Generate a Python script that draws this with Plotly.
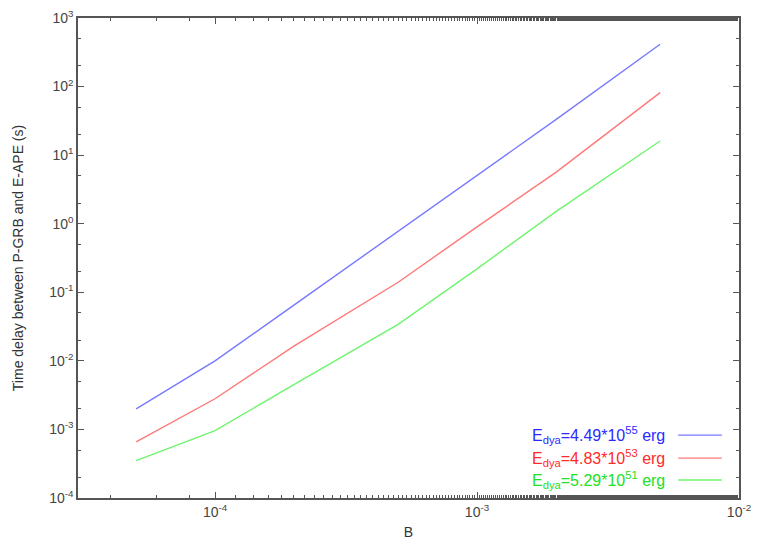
import plotly.graph_objects as go

# magnetic field B and time delay (s) for three dyadosphere energies
B = [5e-5, 1e-4, 2e-4, 5e-4, 1e-3, 2e-3, 5e-3]
delay_55 = [2.0e-3, 1.0e-2, 6.5e-2, 0.77, 5.0, 33.0, 414.0]
delay_53 = [6.6e-4, 2.8e-3, 1.64e-2, 0.14, 0.9, 5.6, 81.5]
delay_51 = [3.5e-4, 9.6e-4, 4.5e-3, 0.034, 0.22, 1.5, 16.1]

labels = ['E<sub>dya</sub>=4.49*10<sup>55</sup> erg',
          'E<sub>dya</sub>=4.83*10<sup>53</sup> erg',
          'E<sub>dya</sub>=5.29*10<sup>51</sup> erg']
text_colors = ['#2a2aff', '#ff2a2a', '#22e022']
line_colors = ['rgb(120,120,255)', 'rgb(255,120,120)', 'rgb(110,245,110)']

xtick_vals = [1e-4, 1e-3, 1e-2]
xtick_text = ['10<sup>-4</sup>', '10<sup>-3</sup>', '10<sup>-2</sup>']
ytick_vals = [1e-4, 1e-3, 1e-2, 1e-1, 1, 10, 100, 1000]
ytick_text = ['10<sup>-4</sup>', '10<sup>-3</sup>', '10<sup>-2</sup>', '10<sup>-1</sup>',
              '10<sup>0</sup>', '10<sup>1</sup>', '10<sup>2</sup>', '10<sup>3</sup>']

fig = go.Figure()
for ys, c, name in zip([delay_55, delay_53, delay_51], line_colors, labels):
    fig.add_trace(go.Scatter(x=B, y=ys, mode='lines', name=name,
                             line=dict(color=c, width=1.4), showlegend=False))

# gnuplot style key: text on the left, sample line on the right
key_y = [0.131, 0.083, 0.0375]
for yk, tc, lc, name in zip(key_y, text_colors, line_colors, labels):
    fig.add_annotation(x=0.891, y=yk, xref='paper', yref='paper', text=name,
                       showarrow=False, xanchor='right', yanchor='middle',
                       font=dict(color=tc, size=16))
    fig.add_shape(type='line', xref='paper', yref='paper', x0=0.908, x1=0.974,
                  y0=yk, y1=yk, line=dict(color=lc, width=1.4))

axis_style = dict(type='log', showgrid=False, zeroline=False, showline=True, mirror='ticks',
                  linecolor='#555', linewidth=1.5, ticks='inside', ticklen=6, tickcolor='#555',
                  minor=dict(ticks='inside', ticklen=3, tickcolor='#555', showgrid=False),
                  tickfont=dict(size=14, color='#444'), automargin=False)

fig.update_xaxes(axis_style, range=[-4.523, -2], tickvals=xtick_vals, ticktext=xtick_text,
                 title=dict(text='B', font=dict(size=14, color='#333'), standoff=12))
fig.update_yaxes(axis_style, range=[-4, 3], tickvals=ytick_vals, ticktext=ytick_text,
                 title=dict(text='Time delay between P-GRB and E-APE (s)',
                            font=dict(size=14, color='#333'), standoff=22))

fig.update_layout(width=749, height=532, margin=dict(l=70, r=18, t=10, b=42),
                  plot_bgcolor='white', paper_bgcolor='white',
                  font=dict(family='Liberation Sans, Arial, sans-serif'))

fig.write_html("out.html")
